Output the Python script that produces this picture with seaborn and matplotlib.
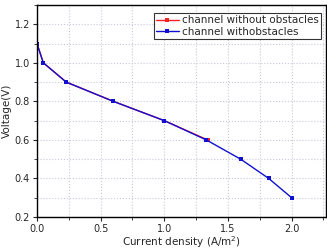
import numpy as np
import pandas as pd
import matplotlib
matplotlib.use('Agg')
import matplotlib.pyplot as plt
import seaborn as sns
from matplotlib.ticker import MultipleLocator

# datos
x_sin = [0.0, 0.05, 0.23, 0.6, 1.0, 1.34]
v_sin = [1.1, 1.0, 0.9, 0.8, 0.7, 0.6]
x_con = [0.0, 0.05, 0.23, 0.6, 1.0, 1.33, 1.6, 1.82, 2.0]
v_con = [1.1, 1.0, 0.9, 0.8, 0.7, 0.6, 0.5, 0.4, 0.3]

sns.set_style('white')
plt.rcParams['font.family'] = ['DejaVu Sans']

df = pd.concat([
    pd.DataFrame({'x': x_sin, 'v': v_sin, 'serie': 'channel without obstacles'}),
    pd.DataFrame({'x': x_con, 'v': v_con, 'serie': 'channel withobstacles'}),
])

fig = plt.figure(figsize=(3.27, 2.5), dpi=100)
ax = fig.add_axes([0.113, 0.132, 0.884, 0.848])
sns.lineplot(data=df, x='x', y='v', hue='serie', palette=['#ff2020', '#1010d0'],
             marker='s', markersize=3, markeredgewidth=0, linewidth=1, sort=False, ax=ax)

ax.set_xlim(0, 2.27)
ax.set_ylim(0.2, 1.3)
ax.xaxis.set_major_locator(MultipleLocator(0.5))
ax.xaxis.set_minor_locator(MultipleLocator(0.25))
ax.yaxis.set_major_locator(MultipleLocator(0.2))
ax.yaxis.set_minor_locator(MultipleLocator(0.1))
ax.grid(True, which='both', color='#c8c8dc', linestyle=':', linewidth=0.8)
for s in ax.spines.values():
    s.set_color('black')
    s.set_linewidth(1)
ax.tick_params(which='major', direction='out', length=3, labelsize=7, pad=2, left=True, bottom=True)
ax.tick_params(which='minor', direction='out', length=2, left=True, bottom=True)
ax.set_xlabel('Current density (A/m$^2$)', fontsize=7.5, labelpad=0)
ax.set_ylabel('Voltage(V)', fontsize=7.5, labelpad=2)

leg = ax.legend(loc='upper right', bbox_to_anchor=(1.0, 0.985), fontsize=7.5, frameon=True,
                fancybox=False, edgecolor='black', handlelength=2.2, borderpad=0.2,
                labelspacing=0.15, handletextpad=0.3)
leg.get_frame().set_linewidth(0.8)
leg.set_title(None)

fig.savefig('out.png', dpi=100)
